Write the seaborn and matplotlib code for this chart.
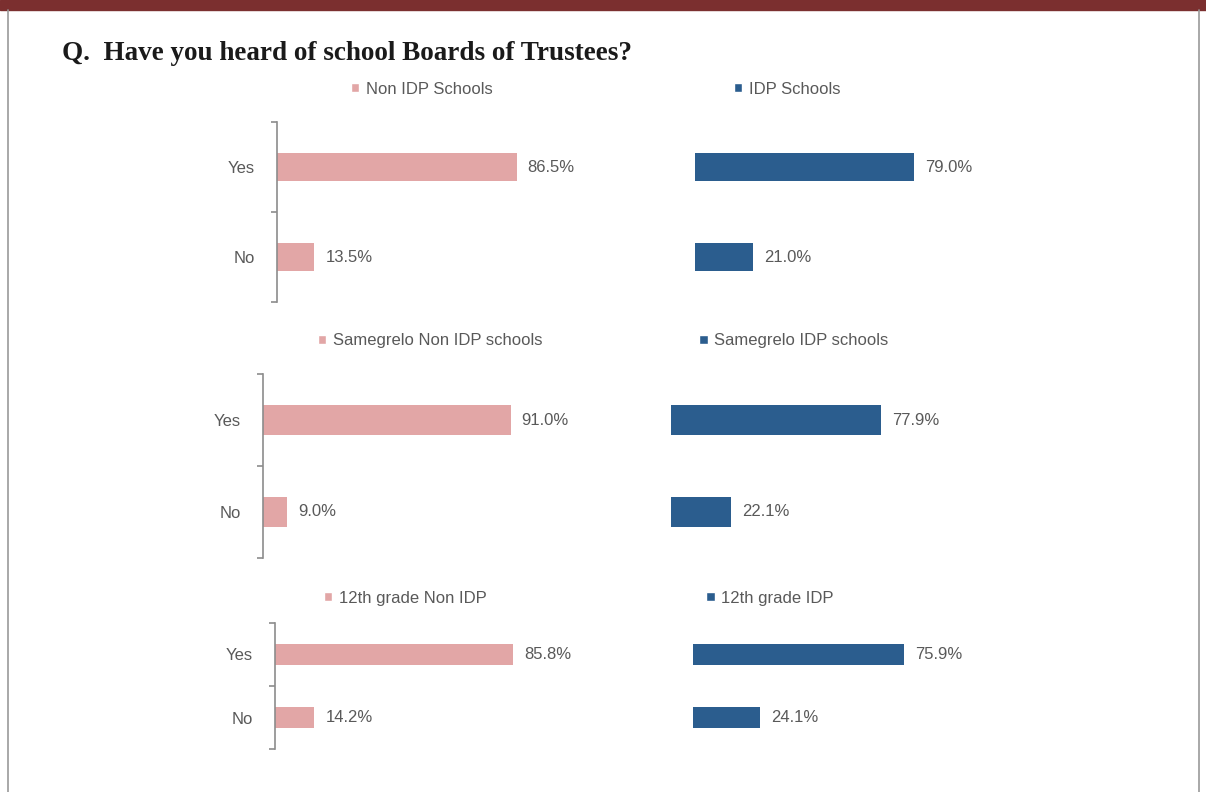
import matplotlib
matplotlib.use("Agg")
import matplotlib.pyplot as plt
from matplotlib.patches import Patch, Rectangle
from matplotlib.lines import Line2D
import seaborn as sns

# Dados
answers = ["Yes", "No"]
groups_left = ["Non IDP Schools", "Samegrelo Non IDP schools", "12th grade Non IDP"]
groups_right = ["IDP Schools", "Samegrelo IDP schools", "12th grade IDP"]
non_idp = [86.5, 13.5]
idp = [79.0, 21.0]
samegrelo_non_idp = [91.0, 9.0]
samegrelo_idp = [77.9, 22.1]
grade12_non_idp = [85.8, 14.2]
grade12_idp = [75.9, 24.1]

values_left = [non_idp, samegrelo_non_idp, grade12_non_idp]
values_right = [idp, samegrelo_idp, grade12_idp]

sns.set_theme(style="white")
plt.rcParams['font.family'] = ['Liberation Sans', 'DejaVu Sans']

W, H = 1206, 792
PINK = "#e2a6a6"
BLUE = "#2b5d8e"
GREY = "#595959"

fig = plt.figure(figsize=(W / 100, H / 100), dpi=100)


def box(left, top, width, height):
    return [left / W, 1 - (top + height) / H, width / W, height / H]


# faixa superior e bordas da página
fig.patches.append(Rectangle((0, 1 - 10 / H), 1, 10 / H, transform=fig.transFigure,
                             color="#7b2f2f", zorder=0))
fig.lines.append(Line2D([8 / W, 8 / W], [0, 1 - 10 / H], transform=fig.transFigure,
                        color="#9a9a9a", lw=1.2))
fig.lines.append(Line2D([1199 / W, 1199 / W], [0, 1 - 10 / H], transform=fig.transFigure,
                        color="#9a9a9a", lw=1.2))

fig.text(62 / W, 1 - 54 / H, "Q.  Have you heard of school Boards of Trustees?",
         family=['Liberation Serif', 'DejaVu Serif'], fontweight='bold',
         fontsize=19.5, color="#1a1a1a", va='center', ha='left')

# posições (pixels) de cada painel
left_boxes = [(277, 122, 277, 180), (263, 374, 272, 184), (275, 623, 277, 126)]
right_boxes = [(695, 122, 277, 180), (671, 374, 270, 184), (693, 623, 278, 126)]
legend_y = [89, 341, 598]
legend_left_x = [422, 430, 405]
legend_right_x = [787, 794, 770]


def draw_panel(b, vals, color, show_axis):
    ax = fig.add_axes(box(*b))
    sns.barplot(x=vals, y=answers, orient='h', color=color, saturation=1,
                width=0.32, linewidth=0, ax=ax)
    ax.set_xlim(0, 100)
    ax.set_ylim(1.5, -0.5)
    ax.set_xticks([])
    ax.set_xlabel('')
    ax.set_ylabel('')
    ax.patch.set_alpha(0)
    for side in ['top', 'right', 'bottom']:
        ax.spines[side].set_visible(False)
    ax.bar_label(ax.containers[0], fmt='%.1f%%', padding=8, fontsize=12, color=GREY)
    if show_axis:
        ax.spines['left'].set_color('#8c8c8c')
        ax.spines['left'].set_linewidth(1.2)
        ax.set_yticks([-0.5, 0.5, 1.5], minor=True)
        ax.tick_params(axis='y', which='minor', left=True, length=4, color='#8c8c8c',
                       direction='out', width=1.2)
        ax.tick_params(axis='y', which='major', length=0, pad=16,
                       labelsize=12, labelcolor=GREY)
    else:
        ax.spines['left'].set_visible(False)
        ax.set_yticks([])
    return ax


for i in range(3):
    draw_panel(left_boxes[i], values_left[i], PINK, True)
    draw_panel(right_boxes[i], values_right[i], BLUE, False)
    for name, color, x in [(groups_left[i], PINK, legend_left_x[i]),
                           (groups_right[i], BLUE, legend_right_x[i])]:
        fig.legend(handles=[Patch(facecolor=color, label=name)], loc='center',
                   bbox_to_anchor=(x / W, 1 - legend_y[i] / H), frameon=False,
                   handlelength=0.5, handleheight=0.5, handletextpad=0.4,
                   fontsize=12, labelcolor=GREY, borderpad=0)

fig.savefig("out.png", dpi=100)
